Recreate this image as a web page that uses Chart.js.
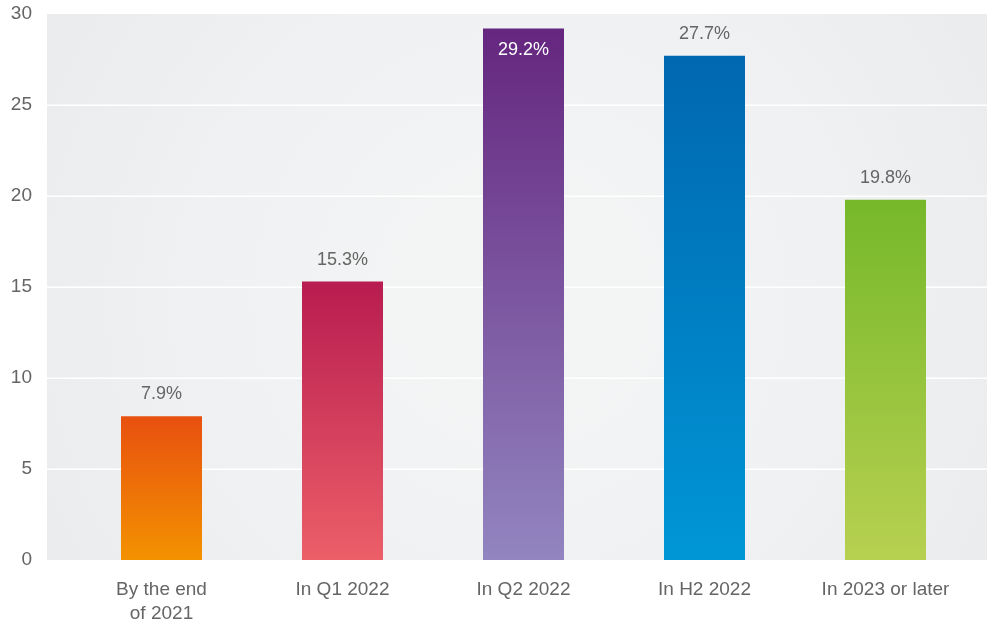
<!DOCTYPE html>
<html>
<head>
<meta charset="utf-8">
<script src="https://cdn.jsdelivr.net/npm/chart.js@4/dist/chart.umd.min.js"></script>
<style>
html,body{margin:0;padding:0;background:#fff;}
#wrap{width:987px;height:623px;position:relative;}
</style>
</head>
<body>
<div id="wrap"><canvas id="c" width="987" height="623"></canvas></div>
<script>
const categories = [["By the end", "of 2021"], "In Q1 2022", "In Q2 2022", "In H2 2022", "In 2023 or later"];
const values = [7.9, 15.3, 29.2, 27.7, 19.8];
const valueLabels = ["7.9%", "15.3%", "29.2%", "27.7%", "19.8%"];
const topColors = ["#e8500f", "#b81c50", "#65267f", "#0067b0", "#76b82a"];
const bottomColors = ["#f39200", "#ec5f68", "#9285c0", "#0096d6", "#b7d050"];
const yTicks = [0, 5, 10, 15, 20, 25, 30];

const FONT = "'Liberation Sans', Arial, sans-serif";
const TEXT = "#656565";

const bgPlugin = {
  id: 'bg',
  beforeDatasetsDraw(chart) {
    const {ctx, chartArea, scales} = chart;
    const left = 47, right = 987;
    const top = chartArea.top, bottom = chartArea.bottom;
    ctx.save();
    const g = ctx.createRadialGradient(520, 300, 0, 520, 300, 520);
    g.addColorStop(0, '#f4f5f5');
    g.addColorStop(0.6, '#f0f1f2');
    g.addColorStop(1, '#ebecee');
    ctx.fillStyle = g;
    ctx.fillRect(left, top, right - left, bottom - top);
    ctx.strokeStyle = '#ffffff';
    ctx.lineWidth = 1.5;
    yTicks.forEach(v => {
      if (v === 0 || v === 30) return;
      const y = Math.round(scales.y.getPixelForValue(v)) + 0.25;
      ctx.beginPath();
      ctx.moveTo(left, y);
      ctx.lineTo(right, y);
      ctx.stroke();
    });
    ctx.restore();
  }
};

const labelPlugin = {
  id: 'vlabels',
  afterDatasetsDraw(chart) {
    const {ctx, chartArea} = chart;
    const meta = chart.getDatasetMeta(0);
    ctx.save();
    ctx.font = "18px " + FONT;
    ctx.textAlign = 'center';
    ctx.textBaseline = 'middle';
    meta.data.forEach((bar, i) => {
      let y = bar.y - 22;
      let color = TEXT;
      if (y - 9 < chartArea.top) {
        y = bar.y + 21;
        color = '#ffffff';
      }
      ctx.fillStyle = color;
      ctx.fillText(valueLabels[i], bar.x, y);
    });
    ctx.restore();
  }
};

new Chart(document.getElementById('c'), {
  type: 'bar',
  data: {
    labels: categories,
    datasets: [{
      data: values,
      backgroundColor(context) {
        const chart = context.chart;
        const {ctx, chartArea, scales} = chart;
        if (!chartArea) return topColors[context.dataIndex];
        const i = context.dataIndex;
        const yTop = scales.y.getPixelForValue(values[i]);
        const yBot = scales.y.getPixelForValue(0);
        const g = ctx.createLinearGradient(0, yTop, 0, yBot);
        g.addColorStop(0, topColors[i]);
        g.addColorStop(1, bottomColors[i]);
        return g;
      },
      borderWidth: 0,
      categoryPercentage: 1,
      barPercentage: 81 / 181
    }]
  },
  options: {
    responsive: false,
    animation: false,
    devicePixelRatio: 1,
    layout: { padding: { left: 0, right: 11, top: 14, bottom: 0 } },
    plugins: { legend: { display: false }, tooltip: { enabled: false } },
    scales: {
      x: {
        afterFit(s) { s.height = 63; s.paddingLeft = 0; s.paddingRight = 0; },
        grid: { display: false, drawTicks: false },
        border: { display: false },
        ticks: { color: TEXT, font: { family: FONT, size: 19, lineHeight: 1.25 }, padding: 18, maxRotation: 0, autoSkip: false }
      },
      y: {
        min: 0, max: 30,
        afterFit(s) { s.width = 71; s.paddingTop = 0; s.paddingBottom = 0; },
        afterBuildTicks(s) { s.ticks = yTicks.map(v => ({ value: v })); },
        grid: { display: false, drawTicks: false },
        border: { display: false },
        ticks: { color: TEXT, font: { family: FONT, size: 19 }, padding: 39 }
      }
    }
  },
  plugins: [bgPlugin, labelPlugin]
});
</script>
</body>
</html>
